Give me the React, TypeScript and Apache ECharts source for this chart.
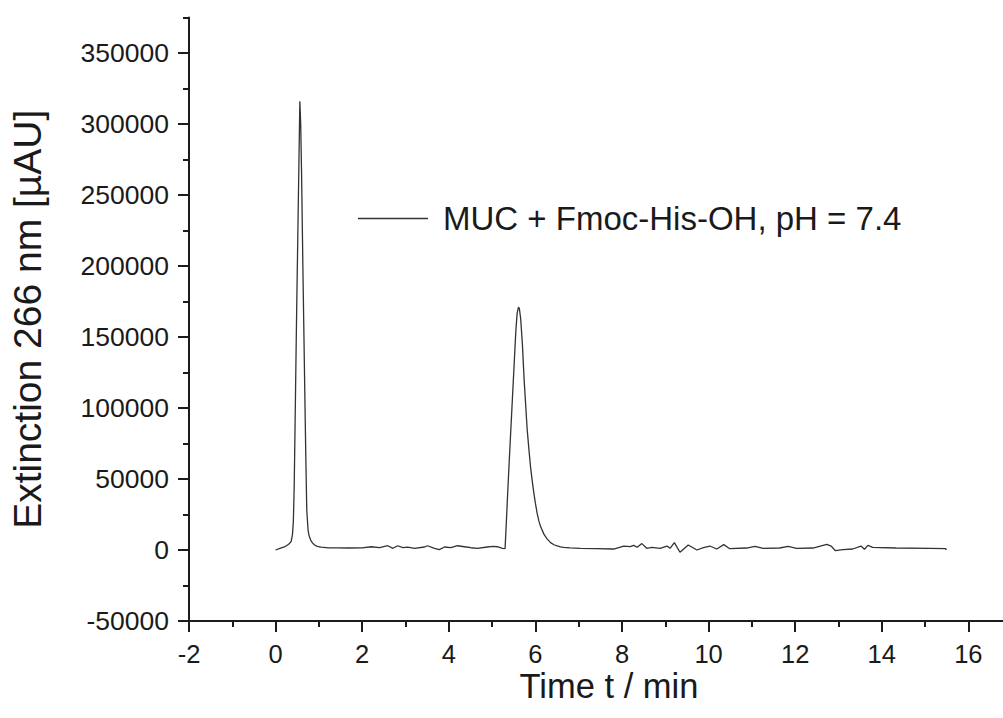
import React, { useEffect, useRef } from "react";
import * as echarts from "echarts";

// ---- data (time in min, extinction in µAU) ----
const leadIn: [number, number][] = [
  [0.0, 0], [0.1, 1200], [0.2, 2200], [0.25, 3000], [0.3, 4000],
];
const peak1: [number, number][] = [
  [0.36, 6000], [0.39, 11000], [0.41, 20000], [0.43, 45000], [0.45, 88000],
  [0.48, 155000], [0.51, 215000], [0.54, 275000], [0.56, 316000], [0.58, 300000],
  [0.6, 265000], [0.63, 200000], [0.65, 160000], [0.68, 100000], [0.7, 62000],
  [0.72, 28000], [0.75, 14000], [0.77, 10500], [0.81, 7000], [0.85, 5000],
  [0.9, 3500], [0.96, 2600], [1.05, 2000], [1.22, 1500],
];
const baseline1: [number, number][] = [
  [1.4, 1500], [1.7, 1400], [2.0, 1500], [2.21, 2300], [2.4, 1700], [2.59, 3000],
  [2.71, 1200], [2.82, 3000], [2.94, 1600], [3.05, 2100], [3.21, 1200], [3.44, 2100],
  [3.51, 3000], [3.67, 1200], [3.78, 250], [3.9, 2100], [4.05, 1600], [4.2, 3000],
  [4.36, 2300], [4.51, 1600], [4.66, 1200], [4.89, 2100], [5.02, 2600], [5.12, 2300],
  [5.24, 1200], [5.3, 1000],
];
const peak2: [number, number][] = [
  [5.33, 20000], [5.36, 40000], [5.4, 65000], [5.45, 95000], [5.5, 125000],
  [5.55, 155000], [5.58, 167000], [5.61, 171000], [5.63, 170000], [5.66, 163000],
  [5.7, 145000], [5.74, 120000], [5.78, 100000], [5.81, 85000], [5.85, 71000],
  [5.89, 58000], [5.93, 48000], [5.97, 39000], [6.0, 33000], [6.04, 26000],
  [6.08, 20500], [6.12, 16500], [6.2, 11000], [6.27, 7800], [6.35, 5200],
  [6.43, 3700], [6.5, 2900], [6.58, 2200], [6.65, 1800],
];
const baseline2: [number, number][] = [
  [6.8, 1500], [7.04, 1200], [7.4, 1000], [7.81, 700], [8.04, 2800], [8.19, 2350],
  [8.27, 3300], [8.35, 1900], [8.46, 4500], [8.57, 1200], [8.69, 1900], [8.88, 1200],
  [9.04, 2800], [9.11, 1200], [9.21, 5200], [9.34, -1600], [9.53, 3500], [9.73, 0],
  [9.88, 1600], [10.03, 2800], [10.19, 700], [10.35, 3800], [10.49, 900], [10.88, 1400],
  [11.07, 2600], [11.26, 1200], [11.64, 1400], [11.84, 2600], [12.03, 1200], [12.41, 1400],
  [12.73, 4000], [12.83, 2800], [12.93, -500], [13.1, 200], [13.33, 700], [13.52, 2800],
  [13.6, 500], [13.68, 3300], [13.79, 1900], [14.33, 1400], [15.1, 1200], [15.48, 900],
  [15.49, 0],
];

const xMajorTicks = [-2, 0, 2, 4, 6, 8, 10, 12, 14, 16];
const xMinorTicks = [-1, 1, 3, 5, 7, 9, 11, 13, 15];
const yMajorTicks = [-50000, 0, 50000, 100000, 150000, 200000, 250000, 300000, 350000];
const yMinorTicks = [-25000, 25000, 75000, 125000, 175000, 225000, 275000, 325000, 375000];

const seriesName = "MUC + Fmoc-His-OH, pH = 7.4";
const xTitle = "Time t / min";
const yTitle = "Extinction 266 nm [µAU]";

const FONT = "'Liberation Sans', Arial, sans-serif";
const AXIS_COLOR = "#1c1c1c";
const TEXT_COLOR = "#1a1a1a";
const LINE_COLOR = "#333333";

export default function App() {
  const ref = useRef<HTMLDivElement>(null);

  useEffect(() => {
    if (!ref.current) return;
    const chart = echarts.init(ref.current, undefined, { renderer: "svg" });
    const data = [...leadIn, ...peak1, ...baseline1, ...peak2, ...baseline2];
    const xMin = -2;
    const xMax = 16.8;
    const yMin = -50000;
    const yMax = 375000;

    const common = {
      splitLine: { show: false },
    };

    chart.setOption({
      animation: false,
      backgroundColor: "#ffffff",
      textStyle: { fontFamily: FONT },
      grid: { left: 186.5, right: 0, top: 17.5, bottom: 97, containLabel: false },
      legend: {
        show: true,
        data: [{ name: seriesName, icon: "rect" }],
        left: 358,
        top: 202,
        padding: 0,
        itemWidth: 70,
        itemHeight: 1.4,
        itemStyle: { color: LINE_COLOR },
        textStyle: {
          fontFamily: FONT,
          fontSize: 33,
          color: TEXT_COLOR,
          padding: [0, 0, 0, 10],
        },
      },
      xAxis: [
        {
          type: "value",
          min: xMin,
          max: xMax,
          position: "bottom",
          name: xTitle,
          nameLocation: "middle",
          nameGap: 51,
          nameMoveOverlap: false,
          nameTextStyle: {
            fontFamily: FONT,
            fontSize: 34.5,
            lineHeight: 28,
            color: TEXT_COLOR,
            padding: [0, 0, 0, 26],
          },
          axisLine: { show: true, onZero: false, lineStyle: { color: AXIS_COLOR, width: 2 } },
          axisTick: {
            show: true,
            inside: false,
            length: 11,
            customValues: xMajorTicks,
            lineStyle: { color: AXIS_COLOR, width: 2 },
          },
          axisLabel: {
            show: true,
            customValues: xMajorTicks,
            margin: 23,
            fontFamily: FONT,
            fontSize: 25.5,
            lineHeight: 20,
            color: TEXT_COLOR,
            formatter: (v: number) => String(v),
          },
          ...common,
        },
        {
          type: "value",
          min: xMin,
          max: xMax,
          position: "bottom",
          axisLine: { show: false, onZero: false },
          axisTick: {
            show: true,
            inside: false,
            length: 6,
            customValues: xMinorTicks,
            lineStyle: { color: AXIS_COLOR, width: 2 },
          },
          axisLabel: { show: false },
          ...common,
        },
      ],
      yAxis: [
        {
          type: "value",
          min: yMin,
          max: yMax,
          position: "left",
          name: yTitle,
          nameLocation: "middle",
          nameGap: 142,
          nameRotate: 90,
          nameMoveOverlap: false,
          nameTextStyle: { fontFamily: FONT, fontSize: 39, color: TEXT_COLOR },
          axisLine: { show: true, onZero: false, lineStyle: { color: AXIS_COLOR, width: 2 } },
          axisTick: {
            show: true,
            inside: false,
            length: 11,
            customValues: yMajorTicks,
            lineStyle: { color: AXIS_COLOR, width: 2 },
          },
          axisLabel: {
            show: true,
            customValues: yMajorTicks,
            margin: 20,
            fontFamily: FONT,
            fontSize: 26.5,
            color: TEXT_COLOR,
            formatter: (v: number) => String(v),
          },
          ...common,
        },
        {
          type: "value",
          min: yMin,
          max: yMax,
          position: "left",
          axisLine: { show: false, onZero: false },
          axisTick: {
            show: true,
            inside: false,
            length: 6,
            customValues: yMinorTicks,
            lineStyle: { color: AXIS_COLOR, width: 2 },
          },
          axisLabel: { show: false },
          ...common,
        },
      ],
      series: [
        {
          name: seriesName,
          type: "line",
          xAxisIndex: 0,
          yAxisIndex: 0,
          data,
          symbol: "none",
          showSymbol: false,
          lineStyle: { color: LINE_COLOR, width: 1.3 },
          itemStyle: { color: LINE_COLOR },
        },
      ],
    });

    return () => chart.dispose();
  }, []);

  return (
    <div
      ref={ref}
      style={{ position: "fixed", left: 0, top: 0, width: 1003, height: 718, background: "#fff" }}
    />
  );
}
